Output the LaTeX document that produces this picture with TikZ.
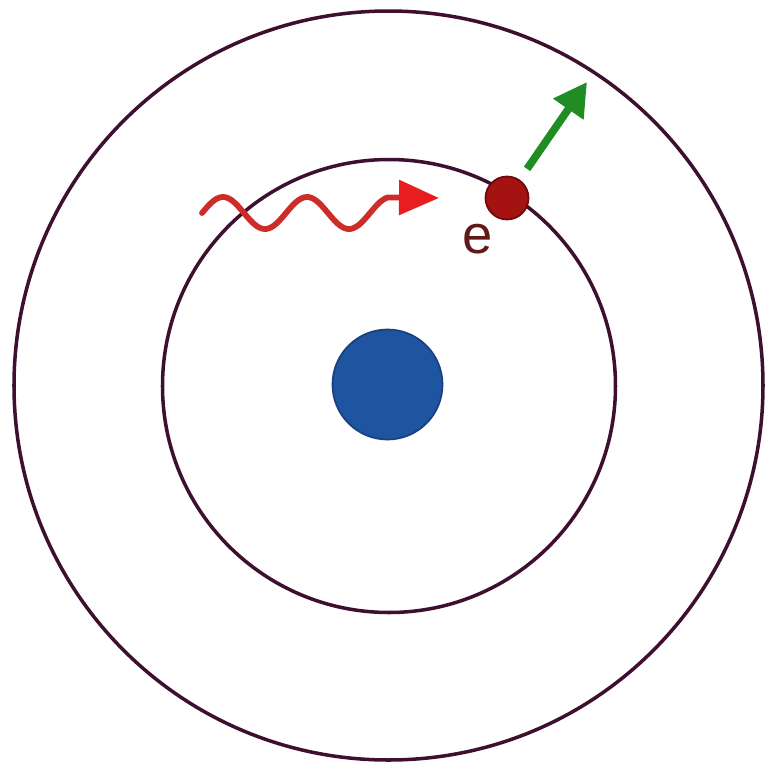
\documentclass[tikz,border=0pt]{standalone}
\usepackage{fontspec}
\setmainfont{Liberation Sans}
\usetikzlibrary{arrows.meta}
\definecolor{orbitcol}{RGB}{62,16,48}
\definecolor{nuccol}{RGB}{30,84,160}
\definecolor{nucedge}{RGB}{25,65,130}
\definecolor{elcol}{RGB}{165,18,18}
\definecolor{eledge}{RGB}{110,10,10}
\definecolor{wavecol}{RGB}{205,45,40}
\definecolor{wavetip}{RGB}{232,30,30}
\definecolor{arrowgreen}{RGB}{32,140,36}
\definecolor{labelcol}{RGB}{95,25,25}
\tikzset{
  orbit/.style={draw=orbitcol, line width=2pt},
  nucleus/.style={circle, fill=nuccol, draw=nucedge, line width=1pt, minimum size=2.2cm, inner sep=0pt},
  electron/.style={circle, fill=elcol, draw=eledge, line width=1pt, minimum size=0.86cm, inner sep=0pt},
  photon/.style={draw=wavecol, line width=3.3pt, line cap=round, -{Triangle[length=0.8cm, width=0.68cm, fill=wavetip, color=wavetip]}},
  ejected/.style={draw=arrowgreen, line width=4.4pt, -{Triangle[length=0.66cm, width=0.7cm]}},
  elabel/.style={text=labelcol, font=\fontsize{31}{31}\selectfont, inner sep=0pt}
}
\begin{document}
\begin{tikzpicture}[x=0.02cm, y=-0.02cm]
\useasboundingbox (0,0) rectangle (769,769);
\fill[white] (0,0) rectangle (769,769);
% orbits
\draw[orbit] (388.5,385.5) circle[radius=374.5];
\draw[orbit] (389,386) circle[radius=226.5];
% nucleus
\node[nucleus] (nuc) at (387.5,384.5) {};
% electron and label
\node[electron] (el) at (507,198) {};
\node[elabel] (elab) at (478,239) {e};
% ejected electron arrow
\coordinate (gtip) at (587,82);
\draw[ejected, shorten <=13*0.02cm] (el) -- (gtip);
% incoming photon
\coordinate (wstart) at (202,213);
\coordinate (wend) at (439,198);
\draw[photon] (wstart) plot[domain=202:388, samples=90, smooth] (\x, {213-16*sin((\x-202)/84*360)}) -- (wend);
\end{tikzpicture}
\end{document}
